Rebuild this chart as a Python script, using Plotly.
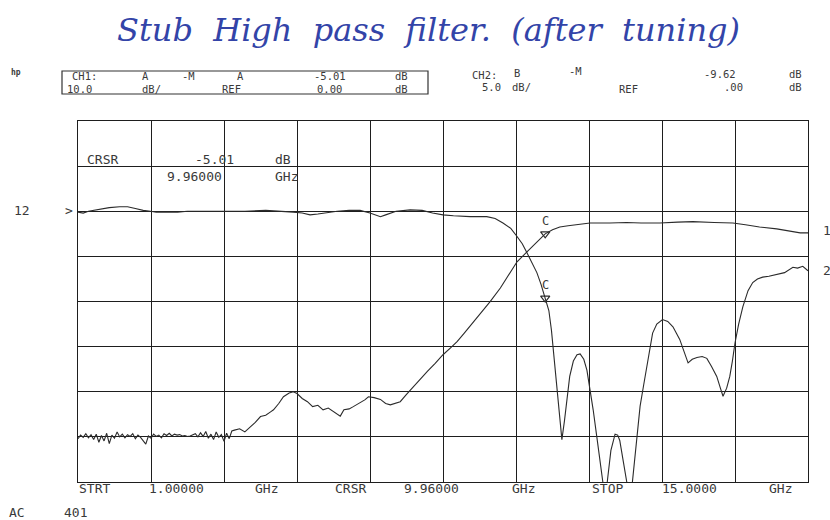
import plotly.graph_objects as go

# ---------------- data ----------------
# CH1 : transmission (A/R), 10 dB/div, ref 0 dB
ch1_freq_ghz = [
    1.00, 1.05, 1.10, 1.15, 1.20, 1.25, 1.30, 1.35, 1.40, 1.45, 1.50, 1.55, 1.60, 1.65, 1.70,
    1.75, 1.80, 1.85, 1.90, 1.95, 2.00, 2.05, 2.10, 2.15, 2.20, 2.25, 2.30, 2.35, 2.40, 2.45,
    2.50, 2.55, 2.60, 2.65, 2.70, 2.75, 2.80, 2.85, 2.90, 2.95, 3.00, 3.05, 3.10, 3.15, 3.20,
    3.25, 3.30, 3.35, 3.40, 3.45, 3.50, 3.55, 3.60, 3.65, 3.70, 3.75, 3.80, 3.85, 3.90, 3.95,
    4.00, 4.10, 4.20, 4.30, 4.40, 4.50, 4.60, 4.70, 4.75, 4.85, 4.94, 5.05, 5.13, 5.20, 5.30,
    5.40, 5.50, 5.60, 5.70, 5.80, 5.90, 6.03, 6.10, 6.20, 6.28, 6.40, 6.50, 6.57, 6.68, 6.80,
    6.90, 6.99, 7.10, 7.18, 7.30, 7.43, 7.55, 7.70, 7.85, 8.00, 8.15, 8.27, 8.40, 8.52, 8.70,
    8.90, 9.10, 9.25, 9.42, 9.61, 9.80, 9.96, 10.10, 10.24, 10.40, 10.60, 10.82, 11.20, 11.52,
    11.80, 12.16, 12.50, 12.79, 13.20, 13.56, 13.80, 14.07, 14.40, 14.70, 14.85, 15.00,
]
ch1_db = [
    -50.4, -49.6, -50.1, -49.3, -50.2, -49.5, -50.6, -49.4, -51.2, -49.7, -50.9, -49.2, -51.5, -49.6, -50.3,
    -48.9, -50.0, -49.4, -50.2, -49.5, -49.9, -49.3, -50.4, -49.6, -50.1, -50.8, -51.6, -49.8, -50.3, -49.4,
    -49.9, -49.6, -50.2, -49.3, -49.7, -49.2, -49.8, -49.4, -49.6, -49.5, -49.8, -49.7, -49.9, -49.8, -49.6,
    -49.3, -50.0, -49.1, -49.9, -48.8, -50.3, -49.4, -50.6, -48.9, -50.1, -49.5, -51.0, -49.2, -50.4, -48.7,
    -48.5, -48.2, -48.9, -47.9, -46.8, -45.5, -45.2, -44.4, -44.0, -42.6, -41.1, -40.3, -40.0, -40.4, -41.5,
    -42.2, -43.3, -43.0, -44.0, -43.6, -44.3, -45.4, -44.0, -43.8, -43.3, -42.5, -41.8, -41.1, -41.3, -41.7,
    -42.6, -42.9, -42.5, -42.2, -40.6, -38.9, -37.3, -35.5, -33.7, -31.8, -30.2, -28.9, -27.1, -25.4, -22.8,
    -20.1, -17.0, -14.3, -11.2, -9.0, -6.8, -5.01, -4.1, -3.5, -3.2, -2.9, -2.6, -2.6, -2.5,
    -2.6, -2.6, -2.4, -2.3, -2.5, -2.6, -3.0, -3.5, -3.9, -4.4, -4.8, -4.8,
]

# CH2 : reflection (B/R), 5 dB/div, ref 0 dB
ch2_freq_ghz = [
    1.00, 1.10, 1.20, 1.30, 1.43, 1.60, 1.80, 1.95, 2.10, 2.25, 2.39, 2.50, 2.70, 2.91, 3.10,
    3.40, 3.86, 4.20, 4.60, 5.00, 5.13, 5.30, 5.45, 5.60, 5.80, 5.97, 6.20, 6.41, 6.60, 6.80,
    6.90, 7.10, 7.37, 7.60, 7.80, 8.00, 8.20, 8.52, 8.84, 9.00, 9.15, 9.30, 9.42, 9.52, 9.61,
    9.70, 9.80, 9.88, 9.96, 10.03, 10.08, 10.13, 10.18, 10.23, 10.28, 10.33, 10.38, 10.43, 10.50,
    10.57, 10.63, 10.70, 10.76, 10.82, 10.88, 10.95, 11.01, 11.07, 11.11, 11.15, 11.22, 11.30,
    11.35, 11.39, 11.46, 11.53, 11.58, 11.64, 11.71, 11.78, 11.85, 11.91, 11.97, 12.02, 12.10,
    12.21, 12.31, 12.41, 12.54, 12.62, 12.70, 12.78, 12.87, 12.97, 13.06, 13.15, 13.25, 13.32,
    13.37, 13.44, 13.50, 13.55, 13.60, 13.67, 13.75, 13.85, 13.94, 14.03, 14.13, 14.25, 14.40,
    14.55, 14.71, 14.80, 14.90, 15.00,
]
ch2_db = [
    -0.1, -0.2, 0.0, 0.1, 0.2, 0.4, 0.5, 0.5, 0.3, 0.1, 0.0, -0.1, -0.1, -0.1, 0.0,
    0.0, 0.0, 0.0, 0.1, 0.0, -0.1, -0.2, -0.4, -0.3, -0.1, 0.0, 0.1, 0.1, -0.2, -0.6,
    -0.4, 0.0, 0.15, 0.1, -0.2, -0.4, -0.5, -0.6, -0.6, -0.8, -1.3, -1.9, -2.8, -3.6, -4.6,
    -5.6, -6.8, -8.1, -9.62, -11.0, -13.2, -16.2, -19.6, -23.0, -25.3, -23.2, -20.5, -18.3, -16.6,
    -15.9, -15.8, -16.4, -17.6, -19.6, -22.0, -25.0, -27.5, -30.2, -33.0, -30.0, -26.5, -24.7,
    -24.8, -25.4, -27.8, -30.2, -33.0, -29.8, -25.5, -21.6, -19.2, -17.2, -15.0, -13.5, -12.5,
    -12.0, -12.2, -12.8, -14.2, -15.6, -16.8, -16.4, -16.2, -16.1, -16.3, -17.2, -18.3, -19.6,
    -20.5, -19.6, -18.3, -16.6, -14.6, -12.5, -10.6, -8.8, -7.9, -7.5, -7.3, -7.2, -7.0,
    -6.8, -6.2, -6.3, -6.1, -6.6,
]

start_ghz, stop_ghz = 1.0, 15.0
cursor_ghz = 9.96
cursor_ch1_db = -5.01
cursor_ch2_db = -9.62

# ---------------- figure ----------------
W, H = 830, 520
ML, MR, MT, MB = 78, 22, 121, 38
PW, PH = W - ML - MR, H - MT - MB

TRACE = "#2b2b2b"
TXT = "#3a3a3a"
MONO = "DejaVu Sans Mono"

fig = go.Figure()
fig.add_trace(go.Scatter(x=ch1_freq_ghz, y=ch1_db, mode="lines",
                         line=dict(color=TRACE, width=1.1), yaxis="y", showlegend=False))
fig.add_trace(go.Scatter(x=ch2_freq_ghz, y=ch2_db, mode="lines",
                         line=dict(color=TRACE, width=1.1), yaxis="y2", showlegend=False))
# cursor markers
fig.add_trace(go.Scatter(x=[cursor_ghz], y=[cursor_ch1_db], mode="markers",
                         marker=dict(symbol="triangle-down-open", size=8, color=TRACE,
                                     line=dict(width=1.2, color=TRACE)),
                         yaxis="y", showlegend=False))
fig.add_trace(go.Scatter(x=[cursor_ghz], y=[cursor_ch2_db], mode="markers",
                         marker=dict(symbol="triangle-down-open", size=8, color=TRACE,
                                     line=dict(width=1.2, color=TRACE)),
                         yaxis="y2", showlegend=False))


def P(px, py):
    return dict(x=(px - ML) / PW, y=(H - MB - py) / PH, xref="paper", yref="paper")


ann = []


def t(text, px, py, size=13, anchor="left", color=TXT, family=MONO, **kw):
    d = P(px, py)
    d.update(text=text, showarrow=False, xanchor=anchor, yanchor="middle",
             font=dict(family=family, size=size, color=color), **kw)
    ann.append(d)


# handwritten title
t("Stub  High  pass  filter.  (after  tuning)", 428, 30, size=32, anchor="center",
  color="#3344a8", family="DejaVu Serif")
ann[-1]["font"]["style"] = "italic"

# header
HS = 10.5
t("<b>hp</b>", 9, 73, size=8)
for s, x in [("CH1:", 70), ("A", 140), ("-M", 180), ("A", 235), ("-5.01", 312), ("dB", 393)]:
    t(s, x, 76, size=HS)
for s, x in [("10.0", 65), ("dB/", 140), ("REF", 220), ("0.00", 315), ("dB", 393)]:
    t(s, x, 89, size=HS)
for s, x, y in [("CH2:", 470, 75), ("B", 512, 73), ("-M", 567, 71), ("-9.62", 702, 74), ("dB", 787, 74)]:
    t(s, x, y, size=HS)
for s, x, y in [("5.0", 480, 87), ("dB/", 510, 87), ("REF", 617, 89), (".00", 722, 87), ("dB", 787, 87)]:
    t(s, x, y, size=HS)

# cursor readout inside grid
t("CRSR", 85, 159)
t(f"{cursor_ch1_db:.2f}", 193, 159)
t("dB", 273, 159)
t(f"{cursor_ghz:.5f}", 165, 176)
t("GHz", 273, 176)

# bottom line
for s, x in [("STRT", 77), (f"{start_ghz:.5f}", 147), ("GHz", 253), ("CRSR", 333),
             (f"{cursor_ghz:.5f}", 402), ("GHz", 510), ("STOP", 590),
             (f"{stop_ghz:.4f}", 660), ("GHz", 767)]:
    t(s, x, 488)
t("AC", 7, 512)
t("401", 62, 512)

# reference / channel labels
t("12", 12, 210)
t(">", 63, 210)
t("1", 821, 230)
t("2", 821, 270)

# cursor "C" labels
ann.append(dict(x=cursor_ghz, y=cursor_ch1_db, xref="x", yref="y", text="C", showarrow=False,
                yshift=13, font=dict(family=MONO, size=12, color=TXT)))
ann.append(dict(x=cursor_ghz, y=cursor_ch2_db, xref="x", yref="y2", text="C", showarrow=False,
                yshift=13, font=dict(family=MONO, size=12, color=TXT)))

shapes = []
b0, b1 = P(62, 71), P(428, 94)
shapes.append(dict(type="rect", xref="paper", yref="paper", x0=b0["x"], y0=b0["y"],
                   x1=b1["x"], y1=b1["y"], line=dict(color="#333", width=1.2)))

GRID = "#1e1e1e"
fig.update_layout(
    width=W, height=H,
    margin=dict(l=ML, r=MR, t=MT, b=MB, pad=0),
    paper_bgcolor="white", plot_bgcolor="white",
    annotations=ann, shapes=shapes,
    xaxis=dict(range=[start_ghz, stop_ghz], tick0=start_ghz, dtick=(stop_ghz - start_ghz) / 10,
               showgrid=True, gridcolor=GRID, gridwidth=1.4, zeroline=False,
               showline=True, linecolor=GRID, linewidth=1.4, mirror=True,
               showticklabels=False, ticks=""),
    yaxis=dict(range=[-60, 20], tick0=0, dtick=10, showgrid=True, gridcolor=GRID, gridwidth=1.4,
               zeroline=False, showline=True, linecolor=GRID, linewidth=1.4, mirror=True,
               showticklabels=False, ticks=""),
    yaxis2=dict(range=[-30, 10], overlaying="y", side="right", showgrid=False, zeroline=False,
                showticklabels=False, ticks="", showline=False),
)

fig.write_html("out.html")
